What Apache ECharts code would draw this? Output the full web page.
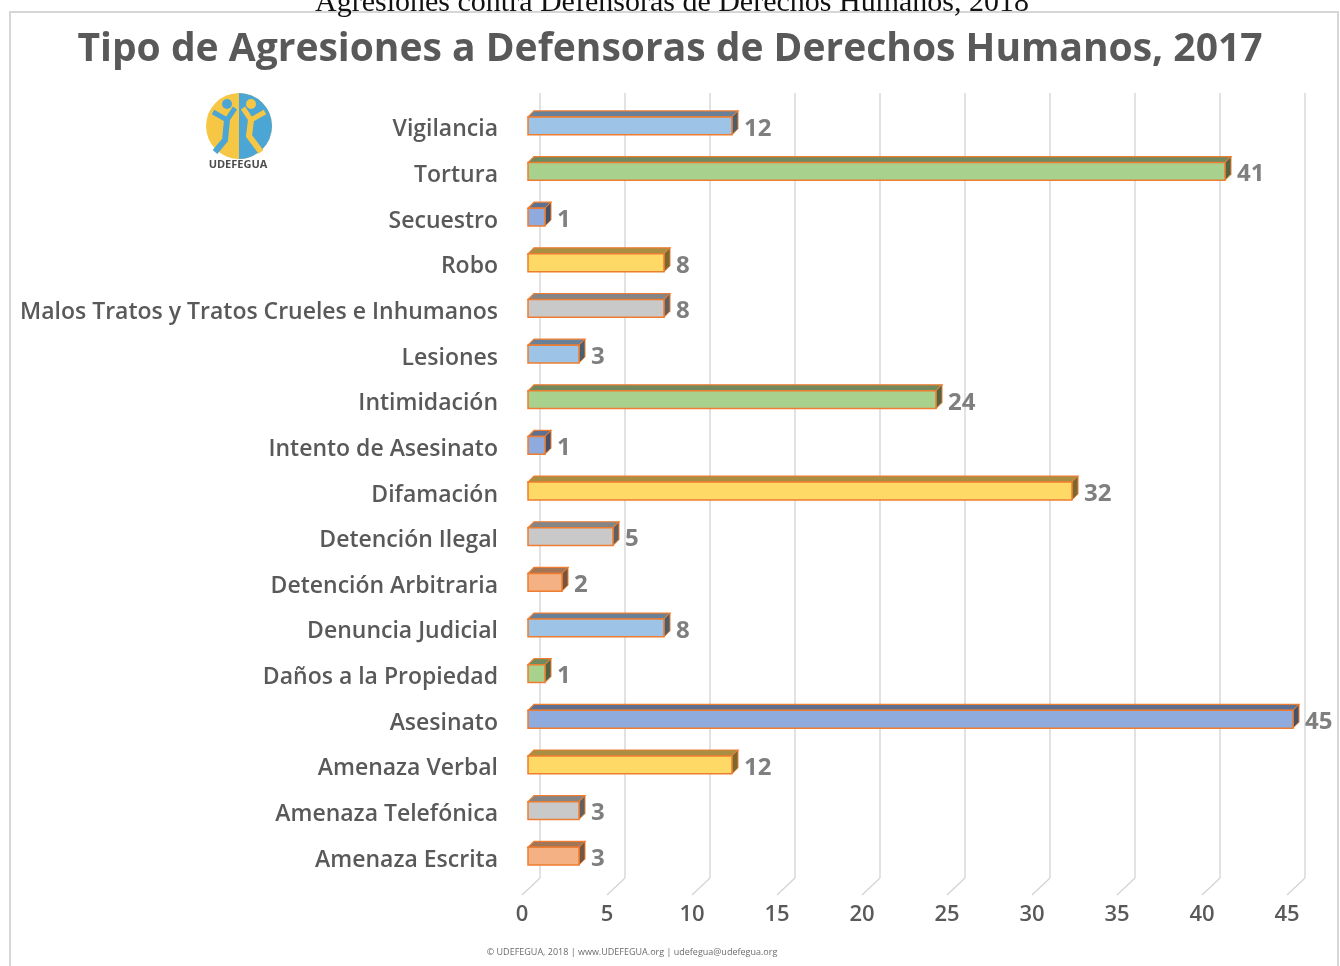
<!DOCTYPE html>
<html>
<head>
<meta charset="utf-8">
<script src="https://cdn.jsdelivr.net/npm/echarts@6/dist/echarts.min.js"></script>
<style>
  html, body { margin: 0; padding: 0; background: #fff; }
  #chart { width: 1340px; height: 966px; }
</style>
</head>
<body>
<div id="chart"></div>
<script>
// categorías de arriba hacia abajo
var categories = [
  "Vigilancia", "Tortura", "Secuestro", "Robo",
  "Malos Tratos y Tratos Crueles e Inhumanos", "Lesiones", "Intimidación",
  "Intento de Asesinato", "Difamación", "Detención Ilegal",
  "Detención Arbitraria", "Denuncia Judicial", "Daños a la Propiedad",
  "Asesinato", "Amenaza Verbal", "Amenaza Telefónica", "Amenaza Escrita"
];
var values = [12, 41, 1, 8, 8, 3, 24, 1, 32, 5, 2, 8, 1, 45, 12, 3, 3];
var axisTicks = [0, 5, 10, 15, 20, 25, 30, 35, 40, 45];

// colores de cada barra (mismo orden)
var barColors = [
  "#9DC3E6", "#A9D18E", "#8FAADC", "#FFD966", "#C9C9C9", "#9DC3E6",
  "#A9D18E", "#8FAADC", "#FFD966", "#C9C9C9", "#F4B183", "#9DC3E6",
  "#A9D18E", "#8FAADC", "#FFD966", "#C9C9C9", "#F4B183"
];

var myChart = echarts.init(document.getElementById("chart"));

function shade(hex, k) {
  var c = echarts.color.parse(hex);
  return "rgb(" + Math.round(c[0] * k) + "," + Math.round(c[1] * k) + "," + Math.round(c[2] * k) + ")";
}

function renderBar(params, api) {
  var i = api.value(1);
  var v = api.value(0);
  var p0 = api.coord([0, i]);
  var p1 = api.coord([v, i]);
  var band = api.size([0, 1])[1];
  var h = band * 0.39;
  var d = 6;
  var c = p0[1] + 3;
  var top = c - h / 2, bot = c + h / 2;
  var col = barColors[i];
  var edge = "#ED7D31";
  return {
    type: "group",
    children: [
      {
        type: "polygon",
        shape: { points: [[p0[0], top], [p0[0] + d, top - d], [p1[0] + d, top - d], [p1[0], top]] },
        style: { fill: shade(col, 0.66), stroke: edge, lineWidth: 1.2 }
      },
      {
        type: "polygon",
        shape: { points: [[p1[0], top], [p1[0] + d, top - d], [p1[0] + d, bot - d], [p1[0], bot]] },
        style: { fill: shade(col, 0.48), stroke: edge, lineWidth: 1 }
      },
      {
        type: "rect",
        shape: { x: p0[0], y: top, width: p1[0] - p0[0], height: h },
        style: { fill: col, stroke: edge, lineWidth: 1.5 }
      },
      {
        type: "text",
        style: {
          text: String(v), x: p1[0] + d + 6, y: c + 3,
          verticalAlign: "middle", align: "left",
          font: "bold 24px 'Open Sans'", fill: "#7f7f7f"
        }
      }
    ]
  };
}

function renderFloor(params, api) {
  var p = api.coord([api.value(0), 0]);
  return {
    type: "line",
    shape: { x1: p[0], y1: p[1], x2: p[0] - 18, y2: p[1] + 17 },
    style: { stroke: "#d4d4d4", lineWidth: 1.3 }
  };
}

var option = {
  backgroundColor: "#fff",
  animation: false,
  title: {
    text: "Tipo de Agresiones a Defensoras de Derechos Humanos, 2017",
    left: "center",
    top: 25,
    textStyle: { fontFamily: "Open Sans", fontSize: 39, fontWeight: "bold", color: "#595959" }
  },
  graphic: [
    {
      type: "rect", z: -10,
      shape: { x: 10, y: 12, width: 1328, height: 970 },
      style: { fill: "none", stroke: "#d6d6d6", lineWidth: 2 }
    },
    {
      type: "text", x: 672, y: 18,
      style: {
        text: "Agresiones contra Defensoras de Derechos Humanos, 2018",
        font: "30px 'Liberation Serif'", fill: "#111", align: "center", verticalAlign: "bottom"
      }
    },
    {
      type: "group", x: 239, y: 126,
      children: [
        { type: "circle", shape: { cx: 0, cy: 0, r: 33 }, style: { fill: "#F6C744" } },
        { type: "sector", shape: { cx: 0, cy: 0, r: 33, r0: 0, startAngle: -Math.PI / 2, endAngle: Math.PI / 2 }, style: { fill: "#4BA6D6" } },
        { type: "circle", shape: { cx: -12, cy: -22, r: 5 }, style: { fill: "#4BA6D6" } },
        { type: "polyline", shape: { points: [[-26, -14], [-12, -6], [-4, -18]] }, style: { stroke: "#4BA6D6", lineWidth: 5 } },
        { type: "polyline", shape: { points: [[-12, -6], [-14, 14], [-24, 26]] }, style: { stroke: "#4BA6D6", lineWidth: 6 } },
        { type: "circle", shape: { cx: 12, cy: -22, r: 5 }, style: { fill: "#F6C744" } },
        { type: "polyline", shape: { points: [[4, -18], [12, -6], [26, -14]] }, style: { stroke: "#F6C744", lineWidth: 5 } },
        { type: "polyline", shape: { points: [[12, -6], [10, 10], [22, 26]] }, style: { stroke: "#F6C744", lineWidth: 6 } }
      ]
    },
    {
      type: "text", x: 238, y: 165,
      style: { text: "UDEFEGUA", font: "bold 11px 'Open Sans'", fill: "#4d4d4d", align: "center", verticalAlign: "middle" }
    },
    {
      type: "text", x: 632, y: 952,
      style: {
        text: "© UDEFEGUA, 2018 | www.UDEFEGUA.org | udefegua@udefegua.org",
        font: "9px 'Open Sans'", fill: "#6b6b6b", align: "center", verticalAlign: "middle"
      }
    }
  ],
  grid: [
    { left: 528, right: 47, top: 100, bottom: 90 },
    { left: 540, right: 35, top: 93, bottom: 88 },
    { left: 528, right: 47, top: 107, bottom: 83 }
  ],
  xAxis: [
    {
      type: "value", gridIndex: 0, min: 0, max: 45, interval: 5,
      axisLine: { show: false }, axisTick: { show: false }, splitLine: { show: false },
      axisLabel: {
        margin: 28, padding: [0, 12, 0, 0],
        fontFamily: "Open Sans", fontSize: 22, fontWeight: 600, color: "#595959"
      }
    },
    {
      type: "value", gridIndex: 1, min: 0, max: 45, interval: 5,
      axisLine: { show: false }, axisTick: { show: false }, axisLabel: { show: false },
      splitLine: { show: true, lineStyle: { color: "#d9d9d9", width: 1.5 } }
    },
    { type: "value", gridIndex: 2, min: 0, max: 45, show: false, splitLine: { show: false } }
  ],
  yAxis: [
    {
      type: "category", gridIndex: 0, data: categories, inverse: true,
      axisLine: { show: false }, axisTick: { show: false }, axisLabel: { show: false }
    },
    { type: "value", gridIndex: 1, min: 0, max: 1, show: false },
    {
      type: "category", gridIndex: 2, data: categories, inverse: true,
      axisLine: { show: false }, axisTick: { show: false },
      axisLabel: {
        margin: 30,
        fontFamily: "Open Sans", fontSize: 23, fontWeight: 600, color: "#595959"
      }
    }
  ],
  series: [
    {
      type: "custom",
      xAxisIndex: 1, yAxisIndex: 1,
      renderItem: renderFloor,
      data: axisTicks.map(function (t) { return [t]; }),
      encode: { x: 0 },
      silent: true
    },
    {
      type: "custom",
      xAxisIndex: 0, yAxisIndex: 0,
      renderItem: renderBar,
      encode: { x: 0, y: 1 },
      data: values.map(function (v, i) { return [v, i]; }),
      z: 5
    }
  ]
};
myChart.setOption(option);
</script>
</body>
</html>
